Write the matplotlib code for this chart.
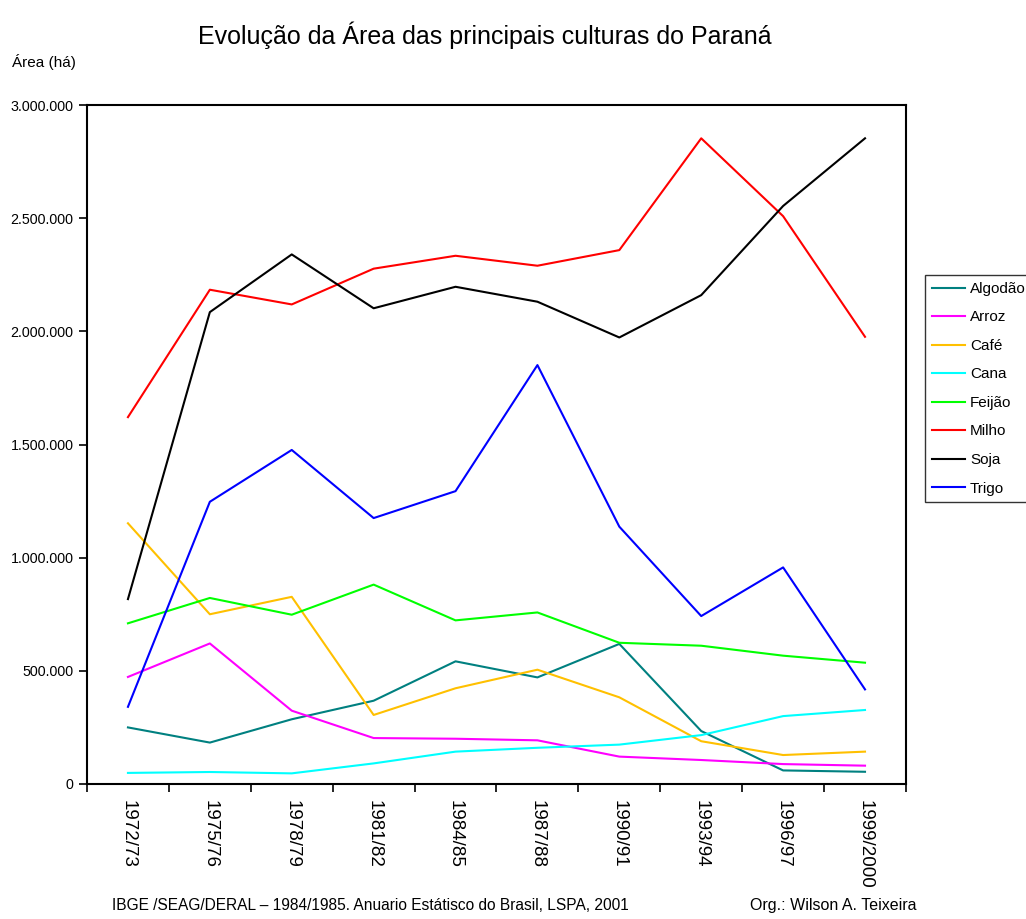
import matplotlib
matplotlib.use('Agg')
import matplotlib.pyplot as plt
from matplotlib.ticker import FuncFormatter

plt.rcParams['font.family'] = ['Liberation Sans', 'DejaVu Sans']

safras = ['1972/73', '1975/76', '1978/79', '1981/82', '1984/85',
          '1987/88', '1990/91', '1993/94', '1996/97', '1999/2000']

algodao = [250000, 183000, 286000, 368000, 542000, 471000, 619000, 234000, 60000, 54000]
arroz = [473000, 621000, 324000, 203000, 200000, 193000, 121000, 106000, 88000, 81000]
cafe = [1152000, 750000, 827000, 305000, 423000, 505000, 383000, 189000, 128000, 143000]
cana = [49000, 53000, 47000, 91000, 143000, 160000, 174000, 216000, 300000, 327000]
feijao = [710000, 822000, 748000, 881000, 723000, 758000, 624000, 611000, 567000, 536000]
milho = [1621000, 2184000, 2119000, 2277000, 2334000, 2290000, 2359000, 2853000, 2509000, 1976000]
soja = [817000, 2085000, 2340000, 2102000, 2197000, 2131000, 1973000, 2160000, 2554000, 2853000]
trigo = [341000, 1247000, 1476000, 1175000, 1294000, 1851000, 1137000, 742000, 957000, 418000]

series = [
    ('Algodão', algodao, '#008080'),
    ('Arroz', arroz, '#FF00FF'),
    ('Café', cafe, '#FFC000'),
    ('Cana', cana, '#00FFFF'),
    ('Feijão', feijao, '#00FF00'),
    ('Milho', milho, '#FF0000'),
    ('Soja', soja, '#000000'),
    ('Trigo', trigo, '#0000FF'),
]

fig = plt.figure(figsize=(10.26, 9.19), dpi=100)
ax = fig.add_axes([0.0848, 0.1469, 0.7982, 0.7388])

x = list(range(len(safras)))
for nome, vals, cor in series:
    ax.plot(x, vals, color=cor, lw=1.5, label=nome)

ax.set_xlim(-0.5, len(safras) - 0.5)
ax.set_ylim(0, 3000000)
ax.set_yticks(range(0, 3000001, 500000))
ax.yaxis.set_major_formatter(FuncFormatter(lambda v, p: f'{int(v):,}'.replace(',', '.')))

# tick marks on category boundaries, labels centred on categories
ax.set_xticks([i - 0.5 for i in range(len(safras) + 1)])
ax.set_xticklabels([])
ax.set_xticks(x, minor=True)
ax.set_xticklabels(safras, minor=True, rotation=270, fontsize=13.5)
ax.tick_params(axis='x', which='minor', length=0, pad=11.5)
ax.tick_params(axis='both', which='major', direction='out', length=6, width=1.2)
ax.tick_params(axis='y', labelsize=10.3, pad=3.6)

for s in ax.spines.values():
    s.set_linewidth(1.5)

leg = ax.legend(loc='upper left', bbox_to_anchor=(1.023, 0.7496), frameon=True,
                fancybox=False, shadow=False, fontsize=11, handlelength=2.2,
                handletextpad=0.3, borderpad=0.45, labelspacing=0.95,
                borderaxespad=0)
leg.get_frame().set_edgecolor('black')
leg.get_frame().set_linewidth(1.0)

fig.text(0.473, 0.962, 'Evolução da Área das principais culturas do Paraná',
         ha='center', va='center', fontsize=18)
fig.text(0.012, 0.932, 'Área (há)', ha='left', va='center', fontsize=11)
fig.text(0.109, 0.015, 'IBGE /SEAG/DERAL – 1984/1985. Anuario Estátisco do Brasil, LSPA, 2001',
         ha='left', va='center', fontsize=11.2)
fig.text(0.731, 0.015, 'Org.: Wilson A. Teixeira', ha='left', va='center', fontsize=11.5)

fig.savefig('out.png', dpi=100)
